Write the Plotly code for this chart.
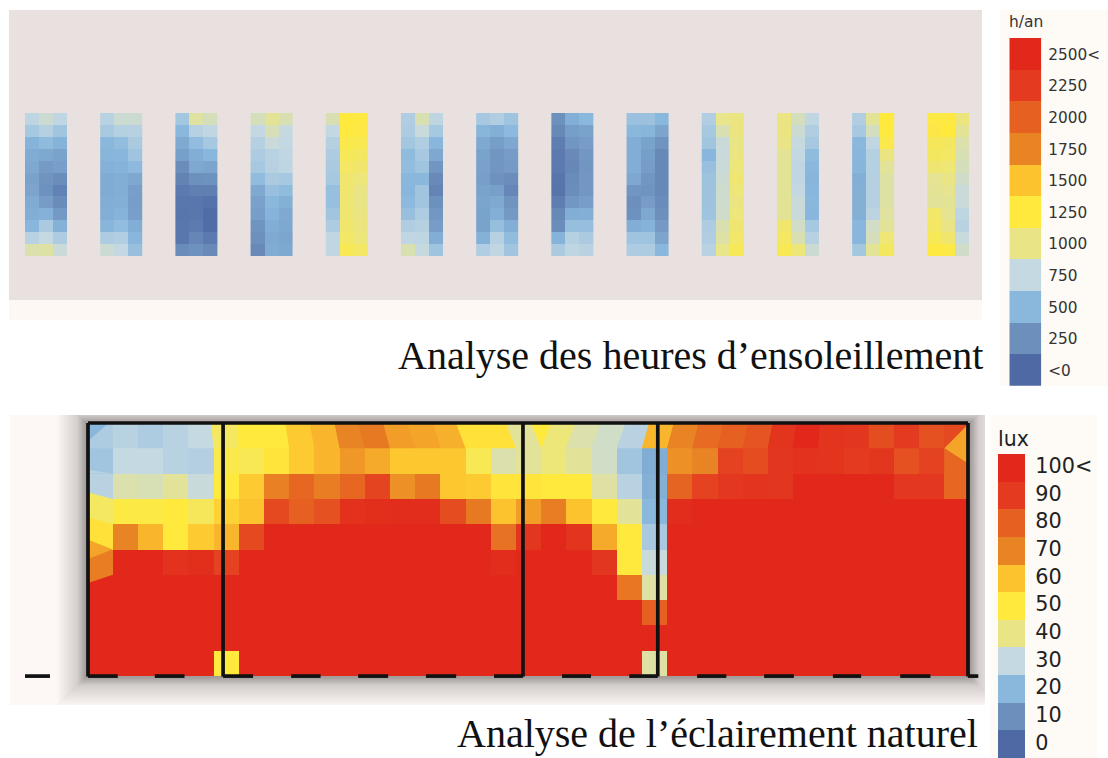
import plotly.graph_objects as go

W, H = 1108, 758

# ---------- data ----------
hour_labels = ["<0", "250", "500", "750", "1000", "1250", "1500", "1750", "2000", "2250", "2500<"]
lux_labels = ["0", "10", "20", "30", "40", "50", "60", "70", "80", "90", "100<"]
scale_steps = [0, 1, 2, 3, 4, 5, 6, 7, 8, 9, 10]
scale_colors = ["#4F69A5", "#6C8FBC", "#8AB8DD", "#C5D9E3", "#E9E587", "#FFE93C",
                "#FDC32E", "#E98424", "#E66021", "#E33A20", "#E2281A"]

# sunshine hours per year: 13 window strips, 12 rows x 3 columns
strip_01 = [[720,800,730],[620,680,600],[470,520,470],[420,400,370],[400,320,350],[370,280,240],
            [380,270,160],[420,330,230],[430,460,310],[490,640,460],[700,750,650],[900,920,780]]
strip_02 = [[700,800,800],[630,680,690],[500,540,640],[480,490,590],[460,470,510],[420,430,400],
            [420,430,350],[430,440,340],[440,470,350],[480,540,430],[650,670,490],[790,740,560]]
strip_03 = [[610,930,860],[500,690,730],[410,540,620],[350,430,490],[240,400,380],[170,260,270],
            [110,150,150],[90,90,60],[80,90,20],[90,120,20],[90,190,110],[230,270,220]]
strip_04 = [[860,960,880],[740,870,760],[680,780,740],[650,700,730],[620,690,720],[530,640,620],
            [410,560,520],[360,500,450],[340,470,410],[280,430,400],[260,410,390],[220,420,400]]
strip_05 = [[880,1250,1230],[740,1240,1220],[680,1200,1180],[650,1160,1130],[640,1120,1090],[620,1080,1040],
            [560,1080,1000],[560,1070,1000],[600,1070,1020],[650,1090,1030],[730,1110,1040],[730,1170,1120]]
strip_06 = [[660,880,720],[650,770,620],[610,660,490],[520,620,400],[540,590,290],[500,500,220],
            [490,600,180],[510,600,260],[560,650,300],[660,680,330],[730,720,430],[890,760,590]]
strip_07 = [[620,660,590],[480,440,510],[410,340,400],[370,290,330],[360,290,320],[350,270,240],
            [370,350,190],[380,410,280],[370,440,310],[370,550,440],[460,690,530],[660,730,600]]
strip_08 = [[260,440,500],[210,340,370],[130,290,330],[110,220,300],[110,200,290],[80,230,300],
            [70,240,300],[130,300,340],[210,430,440],[240,550,550],[470,680,640],[640,720,700]]
strip_09 = [[570,570,500],[500,480,380],[430,370,280],[430,340,210],[430,330,210],[400,290,210],
            [290,280,210],[250,330,230],[270,400,250],[430,470,310],[590,590,380],[650,650,500]]
strip_10 = [[660,990,1020],[620,880,1020],[600,780,1010],[490,770,1020],[560,780,1050],[580,800,1070],
            [580,810,1040],[580,810,1020],[590,820,1040],[650,890,1070],[660,920,1100],[700,990,1160]]
strip_11 = [[1020,860,730],[1020,800,660],[1000,760,620],[960,740,520],[960,730,500],[960,730,480],
            [960,740,490],[960,780,500],[960,780,490],[1090,830,620],[1120,880,690],[1170,1050,790]]
strip_12 = [[660,960,1250],[620,850,1240],[500,730,1200],[490,680,1020],[480,680,950],[440,680,920],
            [450,680,920],[450,680,920],[450,710,930],[490,830,950],[490,860,1060],[610,960,1130]]
strip_13 = [[1220,1230,1030],[1210,1250,960],[1150,1130,900],[1130,1120,880],[1070,1060,860],[970,1000,820],
            [960,980,780],[950,960,780],[1100,970,720],[1120,1000,700],[1160,1080,770],[1230,1220,820]]
strips = [strip_01, strip_02, strip_03, strip_04, strip_05, strip_06, strip_07,
          strip_08, strip_09, strip_10, strip_11, strip_12, strip_13]

# daylight (lux): 10 rows x 35 columns
lux_row_0 = [26,28,26,28,30,45,50,50,58,62,70,73,66,65,63,52,52,38,42,36,33,28,62,70,77,80,83,93,100,93,92,85,90,84,86]
lux_row_1 = [24,30,30,28,27,48,47,51,58,62,67,64,59,59,59,47,36,38,42,38,33,24,17,68,70,88,85,92,94,93,90,92,84,88,84]
lux_row_2 = [28,36,35,38,31,50,58,71,78,72,78,87,68,73,59,58,51,51,50,50,37,28,18,79,88,91,93,92,100,100,100,100,91,91,78]
lux_row_3 = [45,49,49,50,46,56,60,86,80,84,95,96,97,97,85,73,60,66,72,60,50,38,20,97,100,100,100,100,100,100,100,100,100,100,100]
lux_row_4 = [52,70,62,50,58,62,86,100,100,100,100,100,100,100,100,100,75,92,100,93,64,50,25,100,100,100,100,100,100,100,100,100,100,100,100]
lux_row_5 = [72,100,100,94,96,88,100,100,100,100,100,100,100,100,100,100,97,100,100,100,92,50,31,100,100,100,100,100,100,100,100,100,100,100,100]
lux_row_6 = [100,100,100,100,100,100,100,100,100,100,100,100,100,100,100,100,100,100,100,100,100,74,37,100,100,100,100,100,100,100,100,100,100,100,100]
lux_row_7 = [100,100,100,100,100,100,100,100,100,100,100,100,100,100,100,100,100,100,100,100,100,100,80,100,100,100,100,100,100,100,100,100,100,100,100]
lux_row_8 = [100,100,100,100,100,100,100,100,100,100,100,100,100,100,100,100,100,100,100,100,100,100,100,100,100,100,100,100,100,100,100,100,100,100,100]
lux_row_9 = [100,100,100,100,100,50,100,100,100,100,100,100,100,100,100,100,100,100,100,100,100,100,37,100,100,100,100,100,100,100,100,100,100,100,100]
lux_rows = [lux_row_0, lux_row_1, lux_row_2, lux_row_3, lux_row_4,
            lux_row_5, lux_row_6, lux_row_7, lux_row_8, lux_row_9]

# the grid's top row is a fan: how far each cell boundary leans at the ceiling (in cells)
row0_lean = [0, 0, 0, 0, 0, -0.1, -0.08, -0.13, -0.15, -0.19, -0.2, -0.25, -0.27, -0.33, -0.27, -0.38, -0.38,
             -0.4, 0.4, 0.37, 0.36, 0.36, 0.29, 0.27, 0.25, 0.24, 0.23, 0.19, 0.13, 0.07, 0, 0, 0, 0, 0, 0]

# bent mesh facets along the end walls: (lux, x cells, y cells)
facets = [
    (20, [0, 0.85, 0], [0, 0, 0.73]),
    (28, [0, 1, 0], [1.85, 2, 2]),
    (45, [0, 1, 0], [2.74, 3, 3]),
    (52, [0, 1, 0], [3.72, 4, 4]),
    (65, [0, 1, 0], [4.6, 5, 5.39]),
    (72, [0, 1, 1, 0], [5.39, 5, 6, 6.33]),
    (50, [17.6, 18, 18.4], [0, 1, 0]),
    (65, [34, 35, 35], [1, 0, 1.65]),
    (78, [34, 35, 35, 34], [1, 1.65, 2.76, 3]),
]

# plan lines, in cell units of the daylight grid
wall_positions = [0.02, 5.38, 17.28, 22.63, 34.94]
dash_starts = [0.02, 2.67, 5.38, 8.08, 10.74, 13.43, 16.13, 18.83, 21.5, 24.19, 26.85, 29.58, 32.25, 34.94]
dash_ends = [1.2, 3.85, 6.57, 9.25, 11.93, 14.63, 17.28, 19.98, 22.63, 25.35, 28.03, 30.7, 33.45, 35.35]
stub_start, stub_end = -2.48, -1.49

# ---------- helpers ----------
def px_x(x):
    return x / W

def px_y(y):
    return 1 - y / H

def dom_x(a, b):
    return [px_x(a), px_x(b)]

def dom_y(top, bottom):
    return [px_y(bottom), px_y(top)]

def rect(x0, y0, x1, y1, color, opacity=1.0):
    return dict(type="rect", xref="paper", yref="paper", x0=px_x(x0), x1=px_x(x1),
                y0=px_y(y1), y1=px_y(y0), fillcolor=color, opacity=opacity,
                line_width=0, layer="below")

def lux_color(v):
    t = max(0, min(100, v)) / 10
    i = min(int(t), 9)
    f = t - i
    a = scale_colors[i]
    b = scale_colors[i + 1]
    ch = [round(int(a[k:k + 2], 16) * (1 - f) + int(b[k:k + 2], 16) * f) for k in (1, 3, 5)]
    return f"rgb({ch[0]},{ch[1]},{ch[2]})"

continuous = [[i / 10, c] for i, c in enumerate(scale_colors)]
discrete = []
for i, c in enumerate(scale_colors):
    discrete += [[i / 11, c], [(i + 1) / 11, c]]

STRIP_PERIOD = 75.2 / 13.85   # strip spacing in cell widths
fig = go.Figure()

# sunshine strips
for i, s in enumerate(strips):
    fig.add_trace(go.Heatmap(z=s, x0=i * STRIP_PERIOD + 0.5, dx=1, y0=0.5, dy=1,
                             zmin=0, zmax=2500, colorscale=continuous, showscale=False,
                             xaxis="x", yaxis="y", hoverinfo="skip"))

# daylight grid
fig.add_trace(go.Heatmap(z=lux_rows, x0=0.5, dx=1, y0=0.5, dy=1, zmin=0, zmax=100,
                         colorscale=continuous, showscale=False, xaxis="x2", yaxis="y2",
                         hoverinfo="skip"))

def add_patch(v, xs, ys):
    c = lux_color(v)
    fig.add_trace(go.Scatter(x=xs + xs[:1], y=ys + ys[:1], mode="lines", fill="toself", fillcolor=c,
                             line=dict(width=0, color=c), xaxis="x2", yaxis="y2",
                             hoverinfo="skip", showlegend=False))

# fan-shaped top row, then bent facets
for k, v in enumerate(lux_row_0):
    add_patch(v, [k + row0_lean[k], k + 1 + row0_lean[k + 1], k + 1, k], [0, 0, 1, 1])
for v, xs, ys in facets:
    add_patch(v, xs, ys)

# plan lines
wx, wy = [], []
for p in wall_positions:
    wx += [p, p, None]
    wy += [0, 10.02, None]
wx += [wall_positions[0], wall_positions[-1]]
wy += [0, 0]
fig.add_trace(go.Scatter(x=wx, y=wy, mode="lines", xaxis="x2", yaxis="y2", hoverinfo="skip",
                         line=dict(color="#111111", width=3.7), showlegend=False))
dx, dy = [stub_start, stub_end, None], [10, 10, None]
for a, b in zip(dash_starts, dash_ends):
    dx += [a, b, None]
    dy += [10, 10, None]
fig.add_trace(go.Scatter(x=dx, y=dy, mode="lines", xaxis="x2", yaxis="y2", hoverinfo="skip",
                         line=dict(color="#111111", width=3.7), showlegend=False))

# scale keys
fig.add_trace(go.Heatmap(z=[[s] for s in scale_steps], x=[0], y=scale_steps, zmin=-0.5, zmax=10.5,
                         colorscale=discrete, showscale=False, xaxis="x3", yaxis="y3", hoverinfo="skip"))
fig.add_trace(go.Heatmap(z=[[s] for s in scale_steps], x=[0], y=scale_steps, zmin=-0.5, zmax=10.5,
                         colorscale=discrete, showscale=False, xaxis="x4", yaxis="y4", hoverinfo="skip"))

# backgrounds + soft shadow around the plan
shapes = [
    rect(9, 300, 982, 320, "#FDF8F4"),
    rect(9, 10, 982, 300, "#E8E1DF"),
    rect(1000, 10, W, 386, "#FEFBF7"),
    rect(10, 415, 985, 705, "#FDF8F5"),
    rect(990, 415, 1097, H, "#FEFBF7"),
]
for d in range(1, 30):
    shapes.append(rect(max(10, 86 - d), max(415, 423 - d), min(985, 970 + d), min(705, 677 + d),
                       "#000000", 0.007))
for d in range(1, 9):
    shapes.append(rect(max(10, 86 - d), max(415, 423 - d), min(985, 970 + d), min(705, 677 + d),
                       "#000000", 0.018))

hidden = dict(visible=False, fixedrange=True)
layout = dict(
    width=W, height=H, margin=dict(l=0, r=0, t=0, b=0), paper_bgcolor="#FFFFFF",
    plot_bgcolor="rgba(0,0,0,0)", showlegend=False, shapes=shapes,
    font=dict(family="DejaVu Sans", color="#222222"),
    xaxis=dict(domain=dom_x(25, 968.9), range=[0, 12 * STRIP_PERIOD + 3], anchor="y", **hidden),
    yaxis=dict(domain=dom_y(113, 256), range=[12, 0], anchor="x", **hidden),
    xaxis2=dict(domain=dom_x(20, 985), range=[-2.679, 35.615], anchor="y2", **hidden),
    yaxis2=dict(domain=dom_y(415, 690), range=[10.55, -0.316], anchor="x2", **hidden),
    xaxis3=dict(domain=dom_x(1009.3, 1041.3), range=[-0.5, 0.5], anchor="y3", **hidden),
    yaxis3=dict(domain=dom_y(38, 385.7), range=[-0.5, 10.5], anchor="x3", side="right",
                tickmode="array", tickvals=[s - 0.02 for s in scale_steps], ticktext=hour_labels, ticks="",
                showgrid=False, zeroline=False, showline=False, fixedrange=True,
                tickfont=dict(size=15.3, family="DejaVu Sans", color="#333333"), ticklabelstandoff=6),
    xaxis4=dict(domain=dom_x(998, 1025.3), range=[-0.5, 0.5], anchor="y4", **hidden),
    yaxis4=dict(domain=dom_y(454, 758), range=[-0.5, 10.5], anchor="x4", side="right",
                tickmode="array", tickvals=[s + 0.07 for s in scale_steps], ticktext=lux_labels, ticks="",
                showgrid=False, zeroline=False, showline=False, fixedrange=True,
                tickfont=dict(size=20.8, family="DejaVu Sans", color="#222222"), ticklabelstandoff=9),
    annotations=[
        dict(text="h/an", x=px_x(1007), y=px_y(22), xref="paper", yref="paper", xanchor="left",
             yanchor="middle", showarrow=False, font=dict(size=15.5, family="DejaVu Sans", color="#333333")),
        dict(text="lux", x=px_x(996), y=px_y(439), xref="paper", yref="paper", xanchor="left",
             yanchor="middle", showarrow=False, font=dict(size=20.5, family="DejaVu Sans", color="#222222")),
        dict(text="Analyse des heures d’ensoleillement", x=px_x(985), y=px_y(355), xref="paper", yref="paper",
             xanchor="right", yanchor="middle", showarrow=False,
             font=dict(size=40, family="Liberation Serif", color="#111111")),
        dict(text="Analyse de l’éclairement naturel", x=px_x(980), y=px_y(758), xref="paper", yref="paper",
             xanchor="right", yanchor="bottom", showarrow=False,
             font=dict(size=40, family="Liberation Serif", color="#111111")),
    ],
)
fig.update_layout(**layout)
fig.write_html("out.html", config={"displayModeBar": False},
               post_script="document.body.style.margin='0';")
